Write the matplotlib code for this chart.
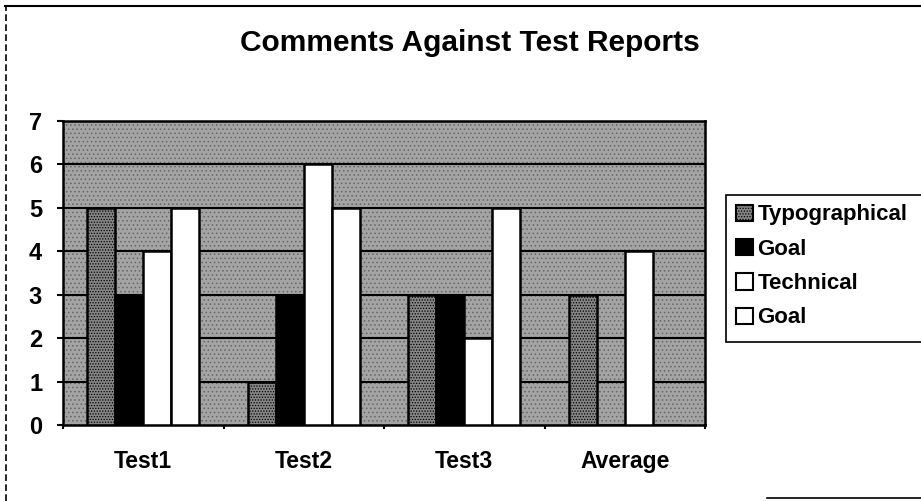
import matplotlib
matplotlib.use("Agg")
import matplotlib.pyplot as plt
import numpy as np
from matplotlib.patches import Patch, Rectangle
from matplotlib.lines import Line2D

categories = ["Test1", "Test2", "Test3", "Average"]
series_names = ["Typographical", "Goal", "Technical", "Goal"]
typographical = [5, 1, 3, 3]
goal = [3, 3, 3, 0]
technical = [4, 6, 2, 4]
goal2 = [5, 5, 5, 0]
y_ticks = [0, 1, 2, 3, 4, 5, 6, 7]

W, H = 921, 501
plt.rcParams["font.family"] = ["Liberation Sans", "DejaVu Sans"]
plt.rcParams["font.weight"] = "bold"
plt.rcParams["hatch.linewidth"] = 0.6

fig = plt.figure(figsize=(W / 100, H / 100), dpi=100)
ax = fig.add_axes([63 / W, 1 - 425 / H, (705 - 63) / W, (425 - 121) / H])
ax.set_facecolor("#a4a4a4")
ax.add_patch(Rectangle((0, 0), 1, 1, transform=ax.transAxes, facecolor="none",
                       edgecolor="#666666", hatch="....", lw=0, zorder=0.5))

styles = [dict(facecolor="#858585", hatch="......"),
          dict(facecolor="black"),
          dict(facecolor="white"),
          dict(facecolor="white")]
values = [typographical, goal, technical, goal2]
x = np.arange(len(categories))
w = 0.175
for k, (vals, st) in enumerate(zip(values, styles)):
    ax.bar(x + (k - 1.5) * w, vals, w, edgecolor="black", linewidth=1.8, zorder=3, **st)

for v in y_ticks[1:]:
    ax.axhline(v, color="black", lw=1.5, zorder=1)

ax.set_xlim(-0.5, len(categories) - 0.5)
ax.set_ylim(0, 7)
ax.set_yticks(y_ticks)
ax.set_yticklabels([str(v) for v in y_ticks], fontsize=17, fontweight="bold")
ax.set_xticks(x)
ax.set_xticklabels(categories, fontsize=16.5, fontweight="bold")
ax.tick_params(axis="x", length=0, pad=18)
ax.set_xticks(np.arange(len(categories) + 1) - 0.5, minor=True)
ax.tick_params(axis="x", which="minor", length=3, width=1.5)
ax.tick_params(axis="y", length=4, width=1.5, pad=11)
for s in ax.spines.values():
    s.set_linewidth(1.8)

fig.text(470 / W, 1 - 43 / H, "Comments Against Test Reports", fontsize=21.5,
         fontweight="bold", ha="center", va="center")

# legend box running off the right edge
fig.patches.append(Rectangle((726 / W, 1 - 342 / H), 220 / W, 147 / H,
                             transform=fig.transFigure, facecolor="white",
                             edgecolor="black", lw=1.2))
handles = [Patch(edgecolor="black", linewidth=1.5, **st) for st in styles]
fig.legend(handles, series_names, loc="upper left",
           bbox_to_anchor=(732 / W, 1 - 200 / H), frameon=False,
           prop=dict(size=16, weight="bold"), handlelength=0.75, handleheight=0.75,
           handletextpad=0.2, labelspacing=0.6, borderaxespad=0, borderpad=0.2)

# outer chart border (scanned, partly broken)
fig.add_artist(Line2D([5 / W, 1], [1 - 6 / H, 1 - 6 / H], color="black", lw=1.5))
fig.add_artist(Line2D([6 / W, 6 / W], [0, 1 - 6 / H], color="black", lw=1.2,
                      linestyle=(0, (4, 2))))
fig.add_artist(Line2D([767 / W, 1], [1 - 498 / H, 1 - 498 / H], color="black", lw=1.2))

fig.savefig("out.png", dpi=100)
